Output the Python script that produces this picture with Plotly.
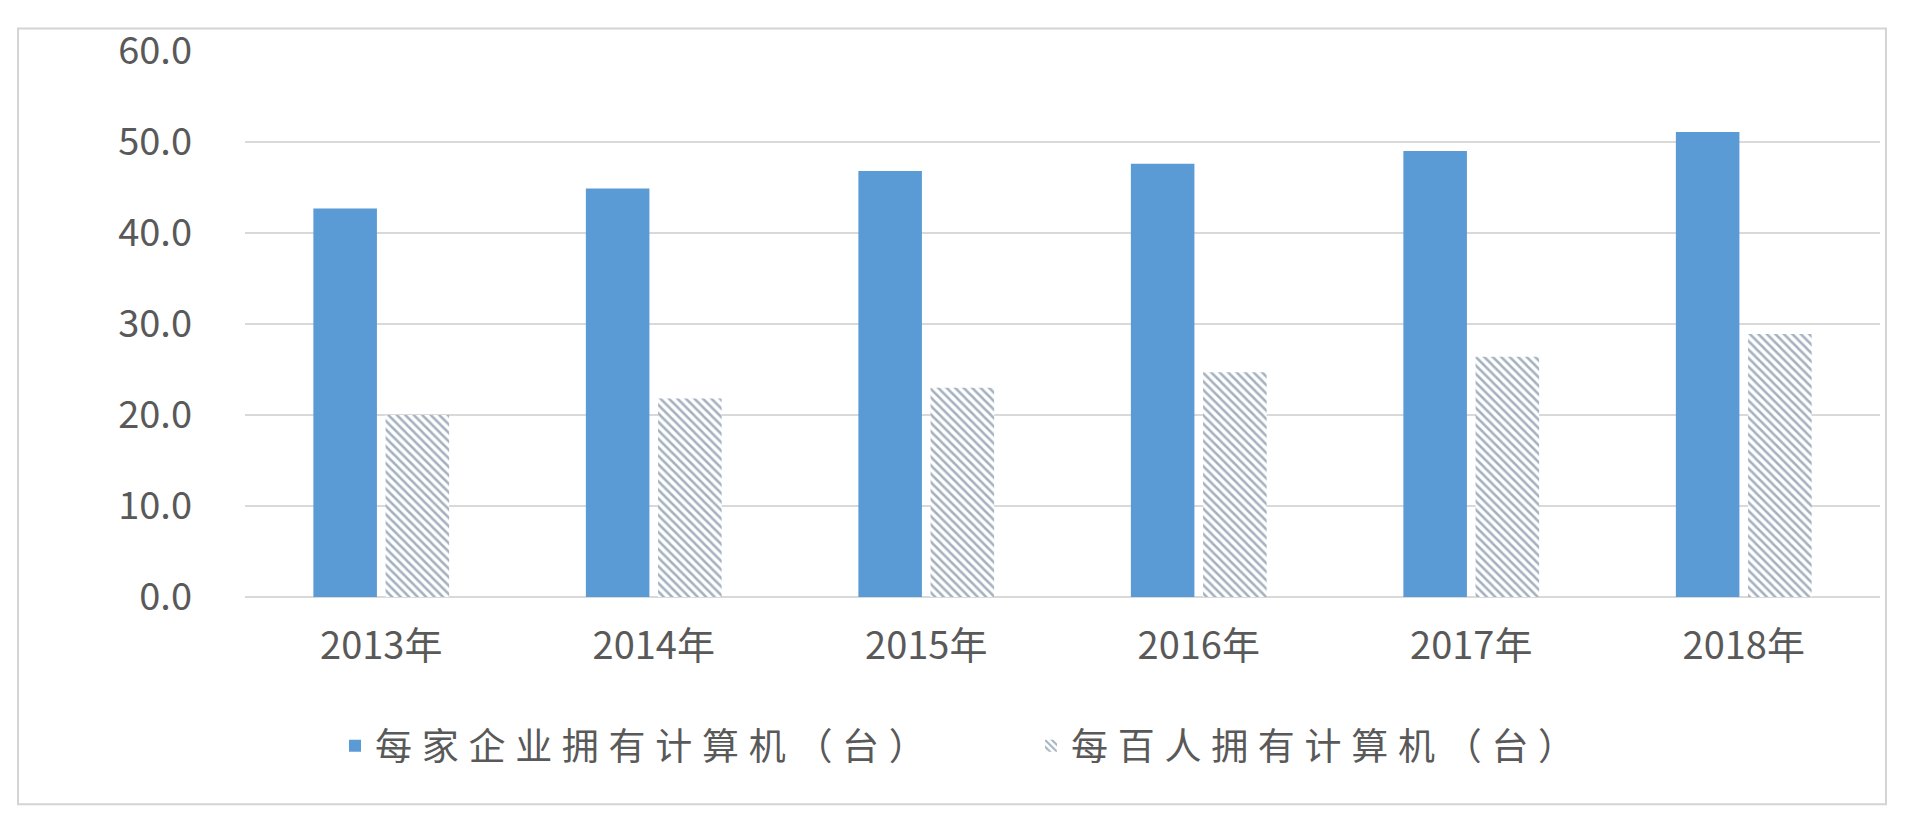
import plotly.graph_objects as go

years = ["2013年", "2014年", "2015年", "2016年", "2017年", "2018年"]
per_company = [42.7, 44.9, 46.8, 47.6, 49.0, 51.1]
per_hundred = [20.0, 21.8, 23.0, 24.7, 26.4, 28.9]
series_names = ["每家企业拥有计算机（台）", "每百人拥有计算机（台）"]

# the page body has an 8px margin, so work in window pixels and shift
OFF = 8
WIN_W, WIN_H = 1920, 825
W, H = WIN_W - 2 * OFF, WIN_H - 2 * OFF
plot_left, plot_right, plot_top, plot_bottom = 245, 1880, 41, 597
ml = plot_left - OFF
mr = (WIN_W - OFF) - plot_right
mt = plot_top - OFF
mb = (WIN_H - OFF) - plot_bottom

font = "Noto Sans CJK SC, Noto Sans, sans-serif"
grey_text = "#595959"

pw = plot_right - plot_left
ph = plot_bottom - plot_top
def px_x(v):
    return (v - plot_left) / pw
def px_y(v):
    return (plot_bottom - v) / ph

# wider letter spacing, as in the original legend
spaced = ["\u2009\u200a".join(s) for s in series_names]

fig = go.Figure()
fig.add_trace(go.Bar(
    x=years, y=per_company, name=spaced[0],
    marker=dict(color="#5b9bd5", line=dict(width=0)),
))
fig.add_trace(go.Bar(
    x=years, y=per_hundred, name=spaced[1],
    marker=dict(
        color="white",
        line=dict(width=0),
        pattern=dict(shape="\\", fgcolor="#4a6480", bgcolor="white",
                     size=6, solidity=0.42),
    ),
))

fig.add_shape(type="rect", xref="paper", yref="paper",
              x0=px_x(18), x1=px_x(1886), y0=px_y(808), y1=px_y(18),
              line=dict(color="#d4d4d4", width=2), fillcolor="rgba(0,0,0,0)",
              layer="below")

fig.update_layout(
    width=W, height=H,
    margin=dict(l=ml, r=mr, t=mt, b=mb),
    paper_bgcolor="white", plot_bgcolor="white",
    barmode="group", bargap=0.47, bargroupgap=0.12,
    font=dict(family=font, color=grey_text, size=37),
    legend=dict(
        orientation="h", x=px_x(335), xanchor="left",
        y=px_y(749), yanchor="middle",
        font=dict(size=37, color=grey_text),
        entrywidth=651, itemwidth=30,
    ),
)
fig.update_xaxes(showgrid=False, showline=False, ticks="",
                 tickfont=dict(size=38, color=grey_text),
                 ticklabelstandoff=23)
fig.update_yaxes(range=[0, 60], dtick=10, tickformat=".1f",
                 showgrid=True, gridcolor="#d9d9d9", gridwidth=2,
                 zeroline=True, zerolinecolor="#d9d9d9", zerolinewidth=2,
                 showline=False, ticks="",
                 tickfont=dict(size=38, color=grey_text),
                 ticklabelstandoff=52)

fig.write_html("out.html")
